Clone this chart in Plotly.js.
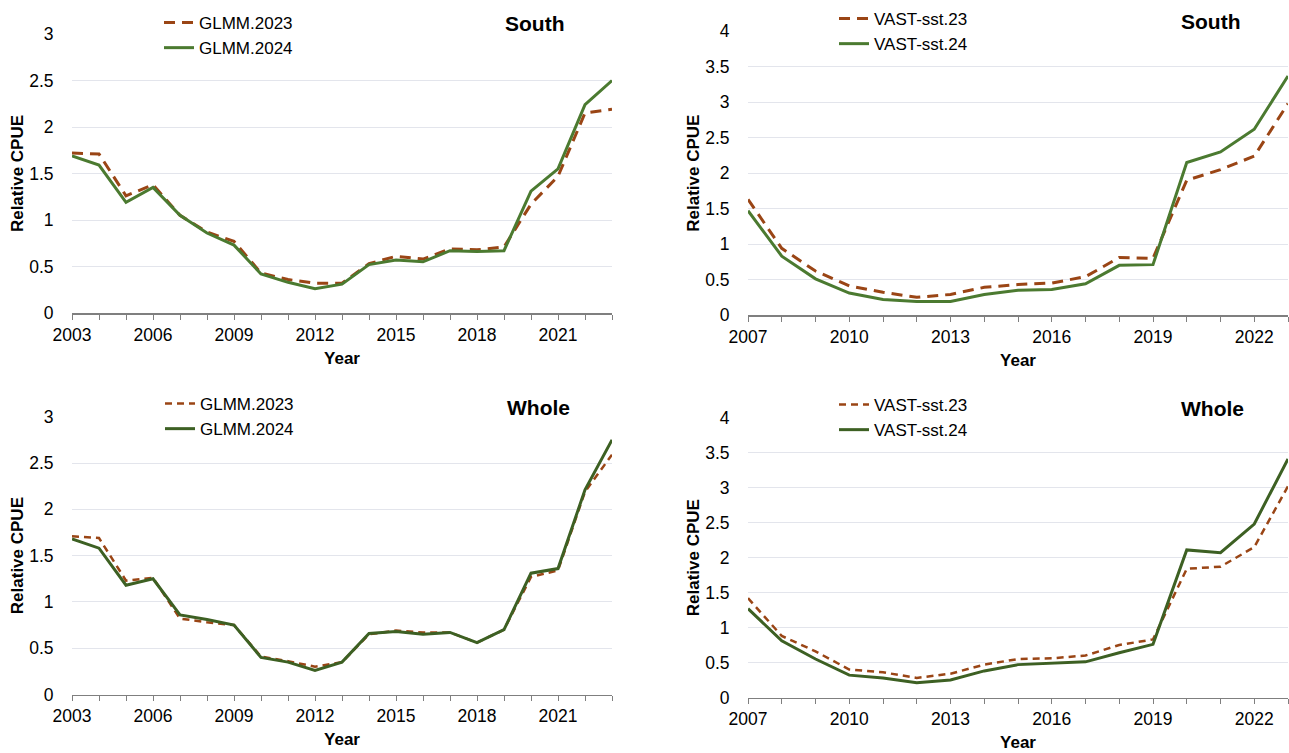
<!DOCTYPE html>
<html>
<head>
<meta charset="utf-8">
<script src="https://cdn.plot.ly/plotly-3.0.1.min.js"></script>
<style>html,body{margin:0;padding:0;background:#fff;}#chart{width:1289px;height:753px;}</style>
</head>
<body>
<div id="chart"></div>
<script>
// ---- data ----
const yearsGLMM = [2003,2004,2005,2006,2007,2008,2009,2010,2011,2012,2013,2014,2015,2016,2017,2018,2019,2020,2021,2022,2023];
const yearsVAST = [2007,2008,2009,2010,2011,2012,2013,2014,2015,2016,2017,2018,2019,2020,2021,2022,2023];

const glmmSouth23 = [1.72,1.71,1.26,1.38,1.05,0.87,0.77,0.43,0.36,0.32,0.32,0.53,0.61,0.58,0.69,0.68,0.71,1.17,1.47,2.15,2.19];
const glmmSouth24 = [1.69,1.59,1.19,1.35,1.05,0.86,0.73,0.42,0.33,0.26,0.31,0.52,0.57,0.55,0.67,0.66,0.67,1.31,1.55,2.24,2.50];
const glmmWhole23 = [1.71,1.69,1.23,1.26,0.82,0.78,0.75,0.41,0.36,0.30,0.35,0.65,0.69,0.67,0.67,0.56,0.70,1.27,1.34,2.19,2.59];
const glmmWhole24 = [1.68,1.58,1.18,1.25,0.86,0.81,0.75,0.40,0.35,0.26,0.35,0.66,0.68,0.65,0.67,0.56,0.70,1.31,1.36,2.21,2.75];

const vastSouth23 = [1.63,0.94,0.62,0.41,0.32,0.25,0.29,0.39,0.43,0.45,0.54,0.81,0.80,1.90,2.05,2.24,2.98];
const vastSouth24 = [1.47,0.83,0.51,0.31,0.22,0.19,0.19,0.29,0.35,0.36,0.44,0.70,0.71,2.15,2.30,2.62,3.37];
const vastWhole23 = [1.42,0.88,0.66,0.40,0.36,0.28,0.34,0.47,0.55,0.56,0.60,0.75,0.83,1.84,1.87,2.15,3.02];
const vastWhole24 = [1.27,0.81,0.55,0.32,0.28,0.21,0.25,0.38,0.47,0.49,0.51,0.64,0.76,2.11,2.07,2.48,3.41];

const seriesNames = ['GLMM.2023','GLMM.2024','VAST-sst.23','VAST-sst.24'];
const panelTitles = ['South','South','Whole','Whole'];
const yTitle = 'Relative CPUE';
const xTitle = 'Year';

// ---- style ----
const W = 1289, H = 753;
const FONT = 'Liberation Sans, Arial, Helvetica, sans-serif';
const BROWN = '#9A4515';
const GREEN1 = '#4B7A30';
const GREEN2 = '#3D6023';
const px = v => v / W;
const py = v => 1 - v / H;

function tr(x, y, name, axis, legend, color, dash, width) {
  return {
    x: x, y: y, name: name, type: 'scatter', mode: 'lines',
    xaxis: 'x' + axis, yaxis: 'y' + axis, legend: legend,
    line: {color: color, dash: dash, width: width}
  };
}

const data = [
  tr(yearsGLMM, glmmSouth23, seriesNames[0], '', 'legend', BROWN, '11px,7px', 3),
  tr(yearsGLMM, glmmSouth24, seriesNames[1], '', 'legend', GREEN1, 'solid', 3),
  tr(yearsVAST, vastSouth23, seriesNames[2], '2', 'legend2', BROWN, '11px,7px', 3),
  tr(yearsVAST, vastSouth24, seriesNames[3], '2', 'legend2', GREEN1, 'solid', 3),
  tr(yearsGLMM, glmmWhole23, seriesNames[0], '3', 'legend3', BROWN, '7px,5px', 2.5),
  tr(yearsGLMM, glmmWhole24, seriesNames[1], '3', 'legend3', GREEN2, 'solid', 3),
  tr(yearsVAST, vastWhole23, seriesNames[2], '4', 'legend4', BROWN, '7px,5px', 2.5),
  tr(yearsVAST, vastWhole24, seriesNames[3], '4', 'legend4', GREEN2, 'solid', 3)
];

function xax(x0, x1, start, end, anchor) {
  return {
    domain: [px(x0), px(x1)], anchor: anchor, range: [start, end],
    tickmode: 'linear', tick0: start, dtick: 3,
    ticks: 'outside', ticklen: 5, tickwidth: 1, tickcolor: '#7f7f7f',
    minor: {dtick: 1, tick0: start, ticks: 'outside', ticklen: 5, tickwidth: 1, tickcolor: '#7f7f7f', showgrid: false},
    showline: true, linecolor: '#7f7f7f', linewidth: 1.5,
    showgrid: false, zeroline: false,
    tickfont: {family: FONT, size: 17.5, color: '#000'},
    title: {text: '<b>' + xTitle + '</b>', font: {family: FONT, size: 17, color: '#000'}, standoff: 8}
  };
}
function yax(ytop, ybot, top, anchor) {
  return {
    domain: [py(ybot), py(ytop)], anchor: anchor, range: [0, top],
    tickmode: 'linear', tick0: 0, dtick: 0.5,
    ticks: 'outside', ticklen: 14, tickcolor: 'rgba(0,0,0,0)',
    showline: false, zeroline: false,
    showgrid: true, gridcolor: '#e3e5ec', gridwidth: 1,
    tickfont: {family: FONT, size: 17.5, color: '#000'},
    title: {text: '<b>' + yTitle + '</b>', font: {family: FONT, size: 17, color: '#000'}, standoff: 1}
  };
}
function leg(xp, yp) {
  return {
    x: px(xp), y: py(yp), xanchor: 'left', yanchor: 'top',
    bgcolor: 'rgba(0,0,0,0)', borderwidth: 0,
    font: {family: FONT, size: 17, color: '#000'},
    itemwidth: 30, tracegroupgap: 0
  };
}
function ann(text, xp, yp) {
  return {
    text: '<b>' + text + '</b>', xref: 'paper', yref: 'paper',
    x: px(xp), y: py(yp), xanchor: 'center', yanchor: 'middle',
    showarrow: false, font: {family: FONT, size: 21, color: '#000'}
  };
}

const layout = {
  width: W, height: H,
  margin: {l: 0, r: 0, t: 0, b: 0},
  paper_bgcolor: '#fff', plot_bgcolor: '#fff',
  showlegend: true,
  xaxis: xax(72, 612, 2003, 2023, 'y'),
  yaxis: yax(34, 313, 3, 'x'),
  xaxis2: xax(748, 1288, 2007, 2023, 'y2'),
  yaxis2: yax(31.3, 315, 4, 'x2'),
  xaxis3: xax(72, 612, 2003, 2023, 'y3'),
  yaxis3: yax(416.7, 694.5, 3, 'x3'),
  xaxis4: xax(748, 1288, 2007, 2023, 'y4'),
  yaxis4: yax(417.7, 697.5, 4, 'x4'),
  legend: leg(159, 5),
  legend2: leg(834, 1),
  legend3: leg(160, 386),
  legend4: leg(834, 387),
  annotations: [
    ann(panelTitles[0], 534, 24),
    ann(panelTitles[1], 1210, 22),
    ann(panelTitles[2], 538, 407),
    ann(panelTitles[3], 1212, 408)
  ]
};

Plotly.newPlot('chart', data, layout, {staticPlot: true, displayModeBar: false});
</script>
</body>
</html>
